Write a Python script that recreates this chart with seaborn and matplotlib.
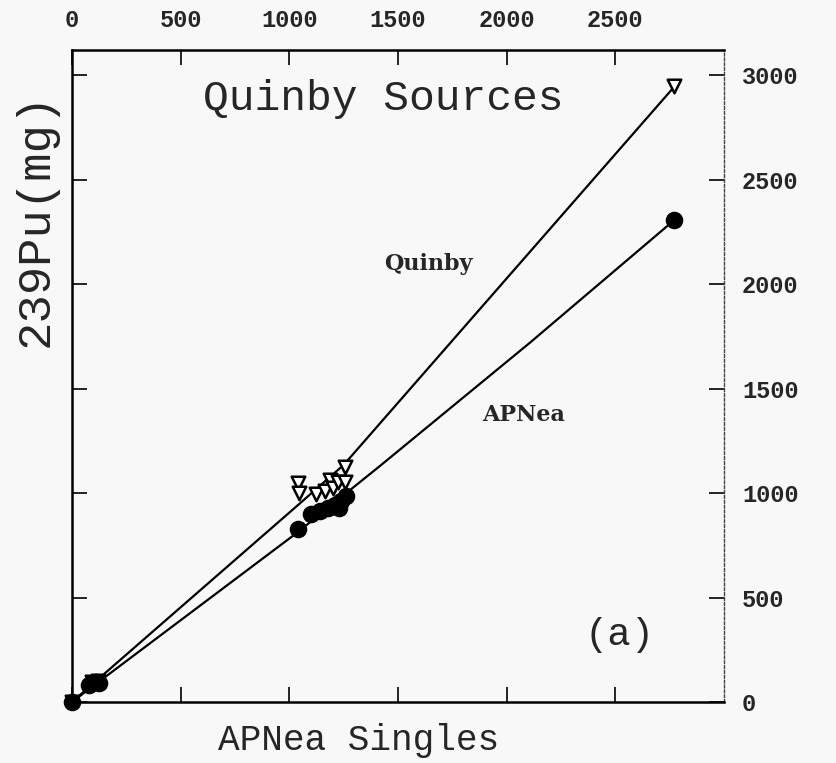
import matplotlib
matplotlib.use("Agg")
import matplotlib.pyplot as plt
import seaborn as sns
import numpy as np

# Quinby values (open triangles)
quinby_x = [0, 90, 120, 1040, 1045, 1125, 1165, 1185, 1200, 1225, 1255, 1258, 2772]
quinby_y = [0, 95, 100, 1050, 1000, 995, 1010, 1065, 1025, 1055, 1055, 1125, 2947]
# APNea values (filled circles)
apnea_x = [0, 80, 110, 125, 1040, 1100, 1140, 1180, 1210, 1230, 1240, 1260, 2772]
apnea_y = [0, 80, 95, 90, 830, 900, 915, 930, 945, 930, 960, 985, 2308]
# fitted curves through the points
quinby_fit_x = [0, 1050, 1250, 2772]
quinby_fit_y = [0, 952, 1135, 2947]
apnea_fit_x = [0, 1035, 1417, 2108, 2772]
apnea_fit_y = [0, 810, 1130, 1721, 2308]

xticks = [0, 500, 1000, 1500, 2000, 2500]
yticks = [0, 500, 1000, 1500, 2000, 2500, 3000]

sns.set_style("ticks")
plt.rcParams['font.family'] = ['Liberation Mono', 'DejaVu Sans']
bg = '#f8f8f8'

fig = plt.figure(figsize=(8.37, 7.63), dpi=100, facecolor=bg)
ax = fig.add_axes([0.086, 0.080, 0.779, 0.854])
ax.set_facecolor(bg)

sns.lineplot(x=quinby_fit_x, y=quinby_fit_y, sort=False, estimator=None,
             color='black', linewidth=1.6, ax=ax)
sns.lineplot(x=apnea_fit_x, y=apnea_fit_y, sort=False, estimator=None,
             color='black', linewidth=1.6, ax=ax)
sns.scatterplot(x=quinby_x, y=quinby_y, marker='v', s=95, facecolor='white',
                edgecolor='black', linewidth=1.8, ax=ax, zorder=3, clip_on=False)
sns.scatterplot(x=apnea_x, y=apnea_y, marker='o', s=160, color='black',
                edgecolor='black', linewidth=0, ax=ax, zorder=4, clip_on=False)

ax.set_xlim(0, 3000)
ax.set_ylim(0, 3120)
ax.set_xticks(xticks)
ax.set_yticks(yticks)
ax.tick_params(axis='both', direction='in', length=11, width=1.2, color='black',
               top=True, bottom=True, left=True, right=True,
               labeltop=True, labelbottom=False, labelleft=False, labelright=True,
               labelsize=17, pad=13)
for lab in ax.get_xticklabels() + ax.get_yticklabels():
    lab.set_fontweight('bold')

for side in ['left', 'bottom', 'top']:
    ax.spines[side].set_linewidth(1.8)
    ax.spines[side].set_color('black')
ax.spines['right'].set_linewidth(1.0)
ax.spines['right'].set_linestyle((0, (2, 1.5)))
ax.spines['right'].set_color('#444444')

ax.set_xlabel('')
ax.set_ylabel('')
ax.text(0.477, 0.925, 'Quinby Sources', transform=ax.transAxes,
        ha='center', va='center', fontsize=31)
ax.text(0.546, 0.672, 'Quinby', transform=ax.transAxes, family='DejaVu Serif',
        ha='center', va='center', fontsize=16, fontweight='bold')
ax.text(0.693, 0.440, 'APNea', transform=ax.transAxes, family='DejaVu Serif',
        ha='center', va='center', fontsize=16, fontweight='bold')
ax.text(0.84, 0.103, '(a)', transform=ax.transAxes,
        ha='center', va='center', fontsize=28)
fig.text(0.428, 0.030, 'APNea Singles', ha='center', va='center', fontsize=26)
fig.text(0.043, 0.712, '239Pu(mg)', ha='center', va='center', fontsize=34,
         rotation=90)

fig.savefig('out.png', dpi=100, facecolor=bg)
